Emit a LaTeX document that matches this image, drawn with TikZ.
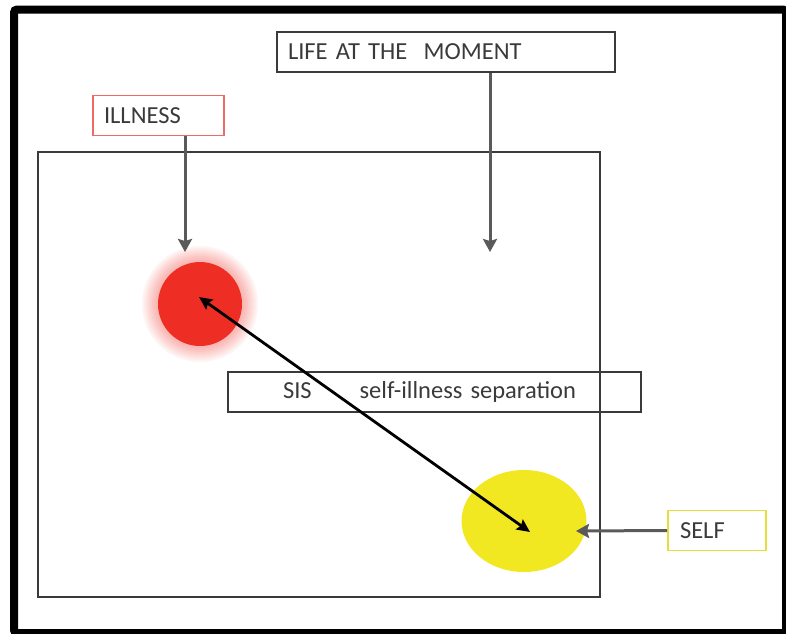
\documentclass[tikz,border=0pt]{standalone}
\usepackage{fontspec}
\setmainfont{Carlito}
\usepackage{xcolor}
\usetikzlibrary{positioning,arrows.meta,shapes.geometric}

\definecolor{txtgray}{HTML}{3A3A3A}
\definecolor{arrgray}{HTML}{5A5A5A}
\definecolor{linegray}{HTML}{3A3A3A}
\definecolor{illred}{HTML}{EE2E24}
\definecolor{boxred}{HTML}{EE6A66}
\definecolor{selfyel}{HTML}{F2E822}
\definecolor{boxyel}{HTML}{E6DE3A}

\begin{document}
\begin{tikzpicture}[
  x=1pt, y=-1pt,
  font=\fontsize{24.5}{30}\selectfont,
  tag/.style   = {draw=linegray, line width=1.6pt, rectangle, align=left,
                  text=txtgray, minimum height=40pt, inner ysep=0pt,
                  inner xsep=11pt},
  arr/.style   = {-{Stealth[length=13pt,width=14pt,inset=2pt]},
                  line width=3pt, draw=arrgray},
  dbl/.style   = {{Stealth[length=13pt,width=12pt,inset=2pt]}-{Stealth[length=13pt,width=12pt,inset=2pt]},
                  line width=2.8pt}
]
\useasboundingbox (0,0) rectangle (786,633);

% Frames
\draw[line width=8pt, rounded corners=3pt] (14,9.5) rectangle (786,633);
\draw[draw=linegray, line width=1.8pt] (38,152) rectangle (600,597);

% Labels
\node[tag, draw=boxred, line width=1.8pt, text width=109pt] (illbox) at (158.5,115.5) {ILLNESS};
\node[tag, text width=316pt] (lifebox) at (446,52) {LIFE AT THE\ \ MOMENT};
\node[tag, inner xsep=55pt, text width=303pt] (sisbox) at (434.5,392)
  {SIS\hspace{48pt}self-illness separation};
\node[tag, draw=boxyel, line width=1.8pt, inner xsep=12pt, text width=74pt] (selfbox) at (717,530.5) {SELF};

% Illness and self
\foreach \r in {44,46,...,58}
  \fill[illred, opacity=0.05] (200,304) circle (\r pt);
\node[circle, fill=illred, minimum size=84pt, inner sep=0pt] (ill) at (200,304) {};
\node[ellipse, fill=selfyel, minimum width=125pt, minimum height=102pt,
      inner sep=0pt] (self) at (524,521) {};

% Arrows
\coordinate (illtip)  at (185,252);
\coordinate (lifetip) at (490,252);
\coordinate (selftip) at (576,531);
\draw[arr] (illtip |- illbox.south) -- (illtip);
\draw[arr] (lifetip |- lifebox.south) -- (lifetip);
\draw[arr] (selfbox.west) -- (selftip);
\draw[dbl] ([shift={(-1,-7)}]ill.center) -- ([shift={(6,11)}]self.center);
\end{tikzpicture}
\end{document}
